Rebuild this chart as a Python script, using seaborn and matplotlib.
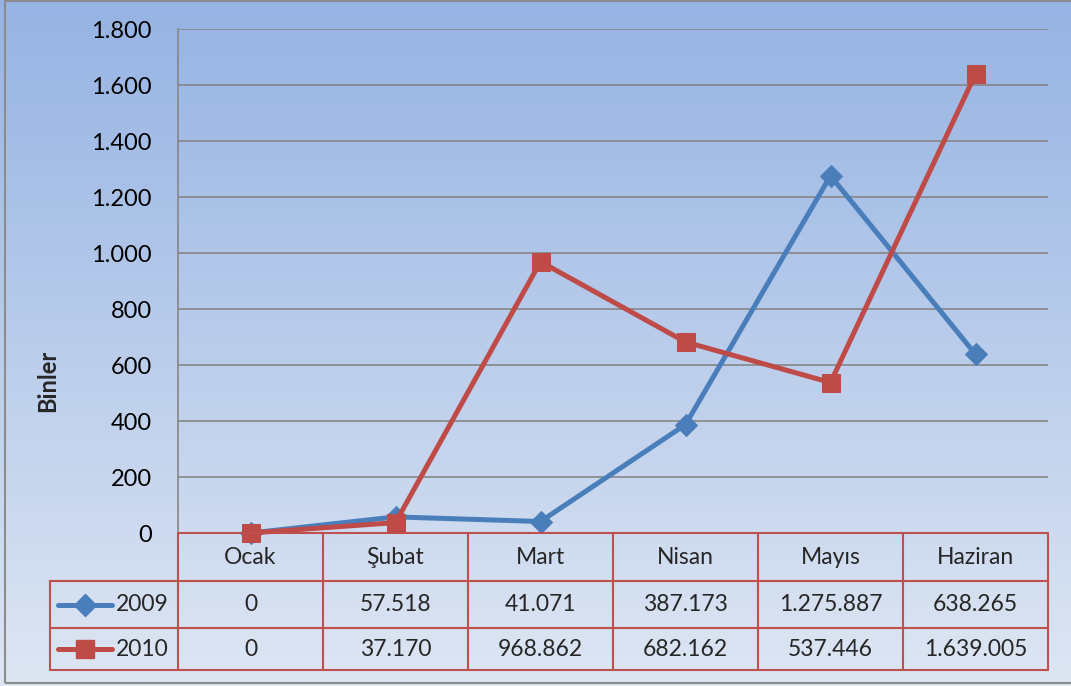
import numpy as np
import pandas as pd
import matplotlib
matplotlib.use("Agg")
import matplotlib.pyplot as plt
import seaborn as sns
from matplotlib.lines import Line2D
from matplotlib.patches import Rectangle

# ---- data ----
months = ["Ocak", "Şubat", "Mart", "Nisan", "Mayıs", "Haziran"]
series_names = ["2009", "2010"]
values_2009 = [0, 57518, 41071, 387173, 1275887, 638265]
values_2010 = [0, 37170, 968862, 682162, 537446, 1639005]
y_ticks = [0, 200, 400, 600, 800, 1000, 1200, 1400, 1600, 1800]
y_label = "Binler"

def fmt_tr(v):
    return f"{int(v):,}".replace(",", ".")

sns.set_theme(style="white")
plt.rcParams["font.family"] = ["Lato", "DejaVu Sans"]

W, H = 1071, 686
fig = plt.figure(figsize=(W / 100, H / 100), dpi=100)

def fx(px):
    return px / W

def fy(py):
    return 1 - py / H

FS = 16.5

# background gradient
bg = fig.add_axes([0, 0, 1, 1], zorder=0)
top = np.array([149, 179, 227]) / 255
bot = np.array([222, 230, 243]) / 255
t = np.linspace(0, 1, 256)[:, None]
grad = (top[None, :] * (1 - t) + bot[None, :] * t)[:, None, :]
bg.imshow(grad, aspect="auto", extent=[0, 1, 0, 1], origin="upper")
bg.set_xlim(0, 1)
bg.set_ylim(0, 1)
bg.axis("off")
# outer grey border
bg.add_patch(Rectangle((fx(5), fy(683)), 1.2, fy(1) - fy(683), fill=False,
                       edgecolor="#8c8c8c", linewidth=1.5, transform=fig.transFigure))

# main axes
L, R, T, B = 178, 1048, 29, 533
ax = fig.add_axes([fx(L), fy(B), fx(R) - fx(L), fy(T) - fy(B)], zorder=2)
ax.set_facecolor("none")

x = np.arange(len(months))
blue = "#4A7EBB"
red = "#BE4B48"
df = pd.DataFrame({
    "x": np.concatenate([x, x]),
    "val": np.array(values_2009 + values_2010) / 1000.0,
    "series": ["2009"] * 6 + ["2010"] * 6,
})
sns.lineplot(data=df[df.series == "2009"], x="x", y="val", ax=ax, color=blue,
             linewidth=3.6, marker="D", markersize=11, markeredgecolor=blue,
             clip_on=False, zorder=5)
sns.lineplot(data=df[df.series == "2010"], x="x", y="val", ax=ax, color=red,
             linewidth=3.6, marker="s", markersize=13, markeredgecolor=red,
             clip_on=False, zorder=6)
ax.set_xlim(-0.5, len(months) - 0.5)
ax.set_ylim(0, 1800)
ax.set_yticks(y_ticks)
ax.set_yticklabels([fmt_tr(v) for v in y_ticks], fontsize=17, color="black")
ax.tick_params(axis="y", length=0, pad=19)
ax.set_xticks([])
ax.set_xlabel("")
ax.set_ylabel("")
ax.grid(axis="y", color="#868686", linewidth=1.2)
ax.grid(axis="x", visible=False)
for s in ["top", "right", "bottom"]:
    ax.spines[s].set_visible(False)
ax.spines["left"].set_color("#868686")
ax.spines["left"].set_linewidth(1.2)
if ax.get_legend():
    ax.get_legend().remove()

fig.text(fx(48), fy(381), y_label, rotation=90, ha="center", va="center",
         fontsize=17, fontweight="bold")

# data table
tc = "#C0504D"
lw = 1.5
col_x = [L + i * (R - L) / 6 for i in range(7)]
row_y = [533, 581, 628, 670]
leg_left = 50

def hline(x0, x1, y):
    fig.add_artist(Line2D([fx(x0), fx(x1)], [fy(y), fy(y)], color=tc, lw=lw,
                          transform=fig.transFigure, zorder=3))

def vline(xx, y0, y1):
    fig.add_artist(Line2D([fx(xx), fx(xx)], [fy(y0), fy(y1)], color=tc, lw=lw,
                          transform=fig.transFigure, zorder=3))

hline(L, R, row_y[0])
for yy in row_y[1:]:
    hline(leg_left, R, yy)
for xx in col_x:
    vline(xx, row_y[0], row_y[-1])
vline(leg_left, row_y[1], row_y[-1])

for i, m in enumerate(months):
    cx = (col_x[i] + col_x[i + 1]) / 2
    fig.text(fx(cx), fy((row_y[0] + row_y[1]) / 2), m, ha="center", va="center", fontsize=FS)

for r, (name, vals, col, mk, ms) in enumerate([
        ("2009", values_2009, blue, "D", 11),
        ("2010", values_2010, red, "s", 13)]):
    yc = (row_y[r + 1] + row_y[r + 2]) / 2
    for i, v in enumerate(vals):
        cx = (col_x[i] + col_x[i + 1]) / 2
        fig.text(fx(cx), fy(yc), fmt_tr(v), ha="center", va="center", fontsize=FS)
    fig.add_artist(Line2D([fx(58), fx(112)], [fy(yc), fy(yc)], color=col, lw=3.6,
                          transform=fig.transFigure, zorder=4))
    fig.add_artist(Line2D([fx(85)], [fy(yc)], color=col, marker=mk, markersize=ms,
                          markeredgecolor=col, transform=fig.transFigure, zorder=4))
    fig.text(fx(116), fy(yc), name, ha="left", va="center", fontsize=FS)

fig.savefig("out.png", dpi=100)
